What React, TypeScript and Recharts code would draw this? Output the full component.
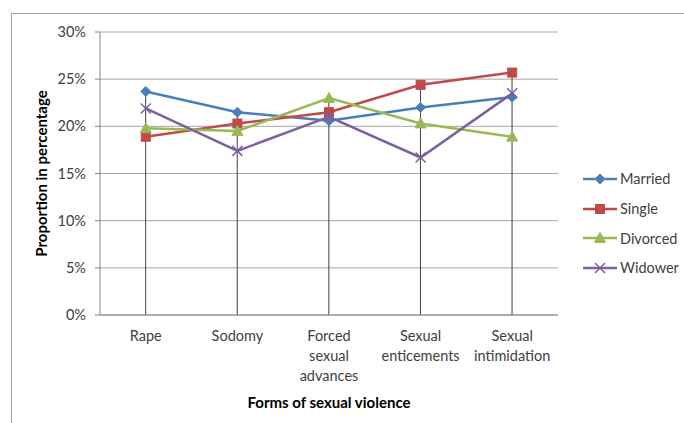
import React from "react";
import { ComposedChart, Line, Bar, XAxis, YAxis, CartesianGrid } from "recharts";

const categories = ["Rape", "Sodomy", "Forced sexual advances", "Sexual enticements", "Sexual intimidation"];
const tickLines = [["Rape"], ["Sodomy"], ["Forced", "sexual", "advances"], ["Sexual", "enticements"], ["Sexual", "intimidation"]];

const married = [23.7, 21.5, 20.6, 22.0, 23.1];
const single = [18.9, 20.3, 21.5, 24.4, 25.7];
const divorced = [19.8, 19.5, 23.0, 20.3, 18.9];
const widower = [21.9, 17.4, 21.0, 16.7, 23.5];

const yTicks = [0, 5, 10, 15, 20, 25, 30];

const series = [
  { key: "married", name: "Married", color: "#4a7ebb", marker: "diamond" },
  { key: "single", name: "Single", color: "#be4b48", marker: "square" },
  { key: "divorced", name: "Divorced", color: "#98b954", marker: "triangle" },
  { key: "widower", name: "Widower", color: "#7d60a0", marker: "cross" },
];

const data = categories.map((c, i) => ({
  name: c,
  married: married[i],
  single: single[i],
  divorced: divorced[i],
  widower: widower[i],
  top: Math.max(married[i], single[i], divorced[i], widower[i]),
}));

const FONT = "Lato, 'Open Sans', sans-serif";
const TEXT_SIZE = 14.5;

function Marker({ type, cx, cy, color }: { type: string; cx: number; cy: number; color: string }) {
  if (type === "diamond") {
    const r = 5;
    return <path d={`M${cx},${cy - r}L${cx + r},${cy}L${cx},${cy + r}L${cx - r},${cy}Z`} fill={color} stroke={color} />;
  }
  if (type === "square") {
    const r = 4.5;
    return <rect x={cx - r} y={cy - r} width={r * 2} height={r * 2} fill={color} stroke={color} />;
  }
  if (type === "triangle") {
    const r = 5.5;
    return <path d={`M${cx},${cy - r}L${cx + r},${cy + r * 0.8}L${cx - r},${cy + r * 0.8}Z`} fill={color} stroke={color} />;
  }
  const r = 5;
  return (
    <g stroke={color} strokeWidth={1.5}>
      <line x1={cx - r} y1={cy - r} x2={cx + r} y2={cy + r} />
      <line x1={cx - r} y1={cy + r} x2={cx + r} y2={cy - r} />
    </g>
  );
}

// vertical drop line from the highest point of each category down to the axis
const DropLine = (props: any) => {
  const { x, y, width, height } = props;
  const cx = x + width / 2;
  return <line x1={cx} y1={y} x2={cx} y2={y + height} stroke="#404040" strokeWidth={1} />;
};

const CategoryTick = (props: any) => {
  const { x, y, index } = props;
  const lines = tickLines[index] || [];
  return (
    <text x={x} y={y + 18} textAnchor="middle" fill="#404040" fontSize={TEXT_SIZE} fontFamily={FONT}>
      {lines.map((l, i) => (
        <tspan key={i} x={x} dy={i === 0 ? 0 : 20}>
          {l}
        </tspan>
      ))}
    </text>
  );
};

const ChartLegend = () => (
  <div style={{ position: "absolute", left: 583, top: 164, fontFamily: FONT, fontSize: TEXT_SIZE, color: "#404040" }}>
    {series.map((s) => (
      <div key={s.key} style={{ display: "flex", alignItems: "center", height: 29.7 }}>
        <svg width={36} height={14}>
          <line x1={0} y1={7} x2={34} y2={7} stroke={s.color} strokeWidth={2.5} />
          <Marker type={s.marker} cx={17} cy={7} color={s.color} />
        </svg>
        <span style={{ marginLeft: 1 }}>{s.name}</span>
      </div>
    ))}
  </div>
);

export default function App() {
  return (
    <div style={{ position: "absolute", left: 0, top: 0, width: 684, height: 423, overflow: "hidden", background: "#fff" }}>
      <div
        style={{
          position: "absolute",
          left: 11,
          top: 13,
          width: 700,
          height: 450,
          border: "1.5px solid #a6a6a6",
          boxSizing: "border-box",
        }}
      />
      <ComposedChart
        width={684}
        height={423}
        data={data}
        margin={{ top: 32, right: 126, bottom: 0, left: 0 }}
        style={{ position: "absolute", left: 0, top: 0 }}
      >
        <CartesianGrid vertical={false} stroke="#a6a6a6" />
        <XAxis
          dataKey="name"
          tick={<CategoryTick />}
          tickLine={false}
          axisLine={{ stroke: "#868686" }}
          interval={0}
          height={108}
          label={{
            value: "Forms of sexual violence",
            position: "insideBottom",
            offset: 15,
            fill: "#000",
            fontSize: 15,
            fontWeight: 700,
            fontFamily: FONT,
          }}
        />
        <YAxis
          width={100}
          domain={[0, 30]}
          ticks={yTicks}
          tickFormatter={(v: number) => `${v}%`}
          tick={{ fill: "#404040", fontSize: TEXT_SIZE, fontFamily: FONT }}
          tickSize={5}
          tickMargin={9}
          tickLine={{ stroke: "#868686" }}
          axisLine={{ stroke: "#868686" }}
          label={{
            value: "Proportion in percentage",
            angle: -90,
            position: "insideLeft",
            offset: 42,
            fill: "#000",
            fontSize: 15,
            fontWeight: 700,
            fontFamily: FONT,
            style: { textAnchor: "middle" },
          }}
        />
        <Bar dataKey="top" shape={<DropLine />} isAnimationActive={false} legendType="none" />
        {series.map((s) => (
          <Line
            key={s.key}
            dataKey={s.key}
            name={s.name}
            stroke={s.color}
            strokeWidth={2.5}
            isAnimationActive={false}
            dot={(p: any) => <Marker key={`${s.key}-${p.index}`} type={s.marker} cx={p.cx} cy={p.cy} color={s.color} />}
            activeDot={false}
          />
        ))}
      </ComposedChart>
      <ChartLegend />
    </div>
  );
}
